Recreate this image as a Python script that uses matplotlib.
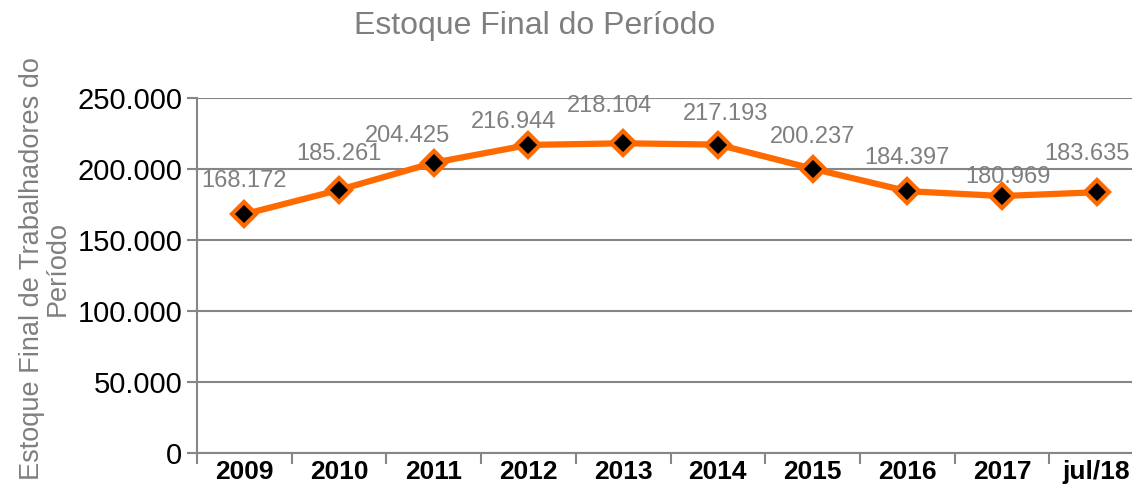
import matplotlib.pyplot as plt
import matplotlib.ticker as mticker

categories = ["2009", "2010", "2011", "2012", "2013", "2014", "2015", "2016", "2017", "jul/18"]
values = [168172, 185261, 204425, 216944, 218104, 217193, 200237, 184397, 180969, 183635]
value_labels = ["168.172", "185.261", "204.425", "216.944", "218.104",
                "217.193", "200.237", "184.397", "180.969", "183.635"]

# label nudges (pixels) to mimic the spreadsheet's label placement
label_dx = [0, 0, -26, -15, -14, 8, 0, 0, 6, -10]
label_dy = [33, 36, 27, 23, 37, 31, 32, 33, 19, 38]

plt.rcParams["font.family"] = ["Liberation Sans", "DejaVu Sans"]

gray = "#868686"
orange = "#FF6A00"

fig = plt.figure(figsize=(11.32, 4.97), dpi=100)
ax = fig.add_axes([197 / 1132, 1 - 453 / 497, (1144 - 197) / 1132, (453 - 98) / 497])

x = list(range(len(categories)))
ax.plot(x, values, color=orange, linewidth=4.5, marker="D", markersize=12,
        markerfacecolor="black", markeredgecolor=orange, markeredgewidth=3,
        zorder=3)

for xi, v, lab, dx, dy in zip(x, values, value_labels, label_dx, label_dy):
    ax.annotate(lab, (xi, v), xytext=(dx * 0.72, dy * 0.72),
                textcoords="offset points", ha="center", va="center",
                fontsize=17, color="#7f7f7f")

ax.set_xlim(-0.5, len(categories) - 0.5)
ax.set_ylim(0, 250000)
ax.yaxis.set_major_locator(mticker.MultipleLocator(50000))
ax.yaxis.set_major_formatter(mticker.FuncFormatter(
    lambda v, p: "0" if v == 0 else f"{int(v):,}".replace(",", ".")))
ax.tick_params(axis="y", labelsize=21, colors=gray, labelcolor="black",
               length=7, width=1.5, direction="out")
ax.grid(axis="y", color=gray, linewidth=1.5)
ax.set_axisbelow(True)

ax.set_xticks([i - 0.5 for i in range(len(categories) + 1)])
ax.set_xticklabels([])
ax.set_xticks(x, minor=True)
ax.set_xticklabels(categories, minor=True, fontsize=19, fontweight="bold")
ax.tick_params(axis="x", which="major", length=8, width=1.5, colors=gray)
ax.tick_params(axis="x", which="minor", length=0, pad=5)

for side in ["top", "right"]:
    ax.spines[side].set_visible(False)
for side in ["left", "bottom"]:
    ax.spines[side].set_color(gray)
    ax.spines[side].set_linewidth(1.5)

fig.text(535 / 1132, 1 - 26 / 497, "Estoque Final do Período", ha="center",
         va="center", fontsize=23, color="#7f7f7f")
fig.text(45 / 1132, 1 - 269 / 497, "Estoque Final de Trabalhadores do\nPeríodo",
         rotation=90, ha="center", va="center", multialignment="center",
         fontsize=19.5, color="#7f7f7f", linespacing=1.0)

fig.savefig("out.png", dpi=100)
